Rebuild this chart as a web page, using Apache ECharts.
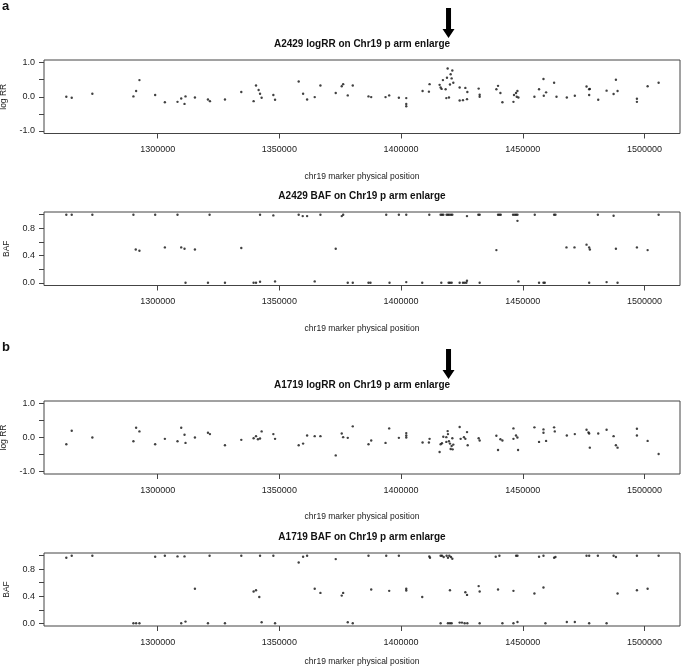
<!DOCTYPE html>
<html>
<head>
<meta charset="utf-8">
<script src="https://cdn.jsdelivr.net/npm/echarts@6/dist/echarts.min.js"></script>
<style>html,body{margin:0;padding:0;background:#fff;}#c{width:685px;height:668px;}</style>
</head>
<body>
<div id="c"></div>
<script>
// ---- data ----
const xTicks = [1300000, 1350000, 1400000, 1450000, 1500000];
const xRange = [1253300, 1514600];
const logTicks = [-1, -0.5, 0, 0.5, 1];
const logLabels = [-1, 0, 1];
const bafTicks = [0, 0.2, 0.4, 0.6, 0.8, 1];
const bafLabels = [0, 0.4, 0.8];
const arrowPos = [1419500];
const panelTitles = ['A2429 logRR on Chr19 p arm enlarge', 'A2429 BAF on Chr19 p arm enlarge',
  'A1719 logRR on Chr19 p arm enlarge', 'A1719 BAF on Chr19 p arm enlarge'];
const xTitle = 'chr19 marker physical position';

const a2429LogRR = [[1262470,0.0],[1264690,-0.03],[1273170,0.09],[1290040,0.01],[1291150,0.17],[1292510,0.49],[1298970,0.05],[1302960,-0.16],[1308150,-0.15],[1309670,-0.05],[1311030,-0.21],[1311440,0.01],[1315310,-0.02],[1320660,-0.08],[1321480,-0.13],[1327650,-0.08],[1334360,0.14],[1339420,-0.13],[1340410,0.33],[1341480,0.20],[1342060,0.09],[1342710,-0.03],[1347530,0.05],[1348230,-0.09],[1357940,0.45],[1359750,0.09],[1361400,-0.08],[1364520,-0.01],[1366870,0.33],[1373160,0.11],[1375630,0.31],[1376210,0.37],[1378100,0.04],[1380160,0.33],
[1386620,0.01],[1387730,-0.01],[1393620,-0.01],[1395120,0.04],[1399100,-0.03],[1402130,-0.04],[1402130,-0.21],[1402130,-0.28],[1408840,0.17],[1411440,0.15],[1411720,0.37],[1415840,0.35],[1416250,0.27],[1416660,0.23],[1417200,0.49],[1418310,0.22],[1419140,0.83],[1418860,0.56],[1418590,-0.04],[1419680,-0.02],[1420090,0.36],[1420370,0.66],[1420780,0.54],[1421060,0.77],[1421470,0.41],[1424070,0.27],[1424070,-0.11],[1425430,-0.10],[1426410,0.26],[1427100,-0.07],[1427230,0.14],[1431880,0.24],[1432290,0.06],[1432290,0.0],[1439160,0.22],[1439840,0.32],[1440810,0.11],[1441640,-0.16],[1446170,-0.15],[1446400,0.05],[1447230,0.11],[1447800,0.17],[1447520,0.0],[1448210,-0.02],[1454790,0.0],[1456690,0.22],[1458510,0.52],[1458640,0.03],[1459580,0.13],[1462880,0.41],[1463860,0.0],[1468100,-0.02],[1471390,0.03],[1476200,0.30],[1477280,0.22],[1477550,0.23],[1477280,0.05],[1481000,-0.09],[1484440,0.18],[1487320,0.08],[1488270,0.50],[1488950,0.17],[1496900,-0.06],[1496900,-0.15],[1501300,0.31],[1505820,0.41]];

const a2429BAF = [[1262470,1],[1264690,1],[1273170,1],[1290040,1],[1298970,1],[1308150,1],[1321330,1],[1342060,1],[1347530,0.99],[1357940,1],[1359590,0.98],[1361400,0.98],[1366870,1],[1375630,0.98],[1376210,1],
[1393900,1],[1399100,1],[1402130,1],[1411600,1],[1416250,1],[1416800,1],[1417360,1],[1418720,1],[1419270,1],[1419820,1],[1420500,1],[1421060,1],[1427080,0.98],[1431760,1],[1432290,1],[1439840,1],[1440400,1],[1440950,1],[1446010,1],[1446700,1],[1447260,1],[1447820,1],[1447820,0.91],[1454930,1],[1462880,1],[1463430,1],[1480860,1],[1487320,0.985],[1505820,1],
[1291000,0.49],[1292510,0.47],[1302960,0.52],[1309670,0.52],[1311030,0.50],[1315310,0.49],[1334360,0.51],[1373160,0.50],[1439160,0.48],[1467960,0.52],[1471250,0.52],[1476200,0.56],[1477280,0.52],[1477570,0.49],[1488270,0.50],[1496900,0.52],[1501300,0.48],
[1311440,0],[1320660,0],[1327650,0],[1339420,0],[1340410,0],[1342060,0.015],[1348230,0.02],[1364520,0.02],[1378100,0],[1380160,0],[1386620,0],[1387440,0],[1395260,0],[1402130,0.01],[1408700,0],[1416530,0],[1419540,0],[1420090,0],[1420780,0],[1424070,0],[1425430,0],[1426130,0],[1426820,0],[1427080,0.03],[1432290,0],[1448210,0.02],[1456690,0],[1458510,0],[1459040,0],[1477280,0],[1484440,0.01],[1488950,0]];

const a1719LogRR = [[1262470,-0.20],[1264690,0.20],[1273170,0.0],[1290040,-0.11],[1291150,0.29],[1292510,0.18],[1298970,-0.20],[1302960,-0.04],[1308150,-0.11],[1309670,0.29],[1311030,0.08],[1311440,-0.16],[1315310,0.0],[1320660,0.14],[1321480,0.10],[1327650,-0.23],[1334360,-0.07],[1339420,-0.02],[1340410,0.04],[1341200,-0.05],[1342060,-0.03],[1342710,0.18],[1347530,0.10],[1348230,-0.04],[1357940,-0.23],[1359750,-0.18],[1361400,0.06],[1364520,0.04],[1366870,0.04],[1373160,-0.53],[1375630,0.12],[1376210,0.01],[1378100,-0.01],[1380160,0.33],
[1386620,-0.20],[1387730,-0.09],[1393620,-0.16],[1395120,0.27],[1399100,-0.01],[1402130,0.13],[1402130,0.06],[1402130,0.0],[1408840,-0.15],[1411440,-0.15],[1411720,-0.04],[1415840,-0.43],[1416250,-0.20],[1416800,-0.17],[1417360,0.02],[1418590,-0.13],[1418590,0.01],[1419140,0.19],[1419270,0.10],[1419680,-0.11],[1420090,-0.18],[1420370,-0.34],[1420780,-0.25],[1421060,-0.02],[1421200,-0.35],[1421470,-0.21],[1424070,0.31],[1424480,-0.04],[1425840,0.01],[1426410,-0.04],[1427100,0.16],[1427370,-0.23],[1431880,-0.02],[1432290,-0.09],[1439160,0.05],[1439840,-0.37],[1440810,-0.05],[1441640,-0.09],[1446170,0.27],[1446170,-0.04],[1447230,0.06],[1447800,0.0],[1448070,-0.37],[1454790,0.30],[1456690,-0.13],[1458510,0.24],[1458510,0.14],[1459580,-0.10],[1462880,0.30],[1463160,0.18],[1468100,0.06],[1471390,0.10],[1476200,0.23],[1477000,0.15],[1477280,0.12],[1477550,-0.30],[1481000,0.12],[1484440,0.23],[1487320,0.04],[1488270,-0.23],[1488950,-0.30],[1496900,0.26],[1496900,0.06],[1501300,-0.10],[1505820,-0.49]];

const a1719BAF = [[1262470,0.97],[1264690,1],[1273170,1],[1290040,0],[1291150,0],[1292510,0],[1298970,0.985],[1302960,1],[1308150,0.99],[1311030,0.99],[1309670,0],[1311440,0.025],[1315310,0.51],[1321330,1],[1320660,0],[1327650,0],[1334360,1],[1339420,0.47],[1340410,0.49],[1341750,0.39],[1342060,1],[1342710,0.015],[1347530,1],[1348230,0],[1357940,0.90],[1359750,0.985],[1361400,1],[1364520,0.51],[1366870,0.45],[1373160,0.95],[1375630,0.41],[1376210,0.45],[1378100,0.015],[1380160,0],
[1386620,1],[1393900,1],[1399100,1],[1411600,0.99],[1411880,0.97],[1416250,1],[1416800,1],[1417500,0.98],[1418720,1],[1419270,0.97],[1419820,1],[1420500,0.98],[1421060,0.955],[1438890,0.985],[1440400,1],[1447260,1],[1447820,1],[1456690,0.985],[1458510,1],[1462880,0.97],[1463430,0.98],[1476200,1],[1477280,1],[1480860,1],[1487320,1],[1488270,0.98],[1496900,1],[1505820,1],
[1387730,0.50],[1395120,0.48],[1402130,0.51],[1402130,0.485],[1408700,0.39],[1420090,0.49],[1426410,0.46],[1427100,0.42],[1431880,0.55],[1432290,0.47],[1439840,0.50],[1446170,0.48],[1454790,0.44],[1458510,0.53],[1488950,0.44],[1496900,0.49],[1501300,0.51],
[1416250,0],[1419270,0],[1420090,0],[1420780,0],[1424070,0.01],[1425020,0.01],[1426130,0],[1427230,0],[1432290,0],[1441640,0],[1446170,0],[1447820,0.02],[1459310,0],[1468100,0.02],[1471390,0.02],[1477280,0],[1484440,0]];

// ---- layout ----
const FONT = '"Liberation Sans", Arial, sans-serif';
const TXT = '#222';
const grids = [
  {top: 60, height: 73.5, xNameGap: 39},
  {top: 212, height: 73.5, xNameGap: 39},
  {top: 401, height: 73, xNameGap: 38},
  {top: 553, height: 73, xNameGap: 31}
];
const seriesData = [a2429LogRR, a2429BAF, a1719LogRR, a1719BAF];
const isLog = [true, false, true, false];
const plotLeft = 44, plotRight = 5;
const plotCenter = plotLeft + (685 - plotLeft - plotRight) / 2;

const option = {
  animation: false,
  backgroundColor: '#fff',
  title: [],
  grid: grids.map(g => ({left: plotLeft, right: plotRight, top: g.top, height: g.height,
    containLabel: false, outerBoundsMode: 'none',
    show: true, borderColor: '#444', borderWidth: 1, backgroundColor: 'transparent'})),
  xAxis: grids.map((g, i) => ({
    type: 'value', gridIndex: i, min: xRange[0], max: xRange[1],
    axisLine: {show: false, onZero: false},
    axisTick: {show: true, length: 5, customValues: xTicks, lineStyle: {color: '#444'}},
    axisLabel: {customValues: xTicks, fontSize: 9, color: TXT, fontFamily: FONT, margin: 12,
      formatter: v => String(v)},
    splitLine: {show: false},
    name: xTitle, nameLocation: 'middle', nameGap: g.xNameGap,
    nameTextStyle: {fontSize: 8.5, color: TXT, fontFamily: FONT}
  })),
  yAxis: grids.map((g, i) => ({
    type: 'value', gridIndex: i,
    min: isLog[i] ? -1.08 : -0.04, max: isLog[i] ? 1.08 : 1.04,
    axisLine: {show: false, onZero: false},
    axisTick: {show: true, length: 5, customValues: isLog[i] ? logTicks : bafTicks, lineStyle: {color: '#444'}},
    axisLabel: {customValues: isLog[i] ? logLabels : bafLabels, fontSize: 9, color: TXT, fontFamily: FONT,
      margin: 9, formatter: v => v.toFixed(1)},
    splitLine: {show: false},
    name: isLog[i] ? 'log RR' : 'BAF', nameLocation: 'middle', nameGap: 27, nameRotate: 90,
    nameTextStyle: {fontSize: 8.5, color: TXT, fontFamily: FONT}
  })),
  series: seriesData.map((d, i) => ({
    type: 'scatter', xAxisIndex: i, yAxisIndex: i, data: d,
    symbol: 'circle', symbolSize: 2.4, itemStyle: {color: '#111'}, silent: true
  }))
};

grids.forEach((g, i) => {
  option.title.push({
    text: panelTitles[i], left: plotCenter, top: g.top - 21, textAlign: 'center', padding: 0,
    textStyle: {fontSize: 10, fontWeight: 'bold', color: '#111', fontFamily: FONT}
  });
});
option.title.push({text: 'a', left: 2, top: 0, padding: 0, textStyle: {fontSize: 13, fontWeight: 'bold', color: '#111', fontFamily: FONT}});
option.title.push({text: 'b', left: 2, top: 341, padding: 0, textStyle: {fontSize: 13, fontWeight: 'bold', color: '#111', fontFamily: FONT}});

const chart = echarts.init(document.getElementById('c'), null, {renderer: 'canvas'});
chart.setOption(option);

// arrows above the logRR panels, positioned via the x scale
const arrowGraphics = [];
[0, 2].forEach(gi => {
  const px = chart.convertToPixel({xAxisIndex: gi, yAxisIndex: gi}, [arrowPos[0], 0])[0];
  const tipY = grids[gi].top - 22;
  const topY = tipY - 30;
  const sw = 2.5, hw = 6, hh = 9;
  arrowGraphics.push({
    type: 'polygon',
    shape: {points: [[px - sw, topY], [px + sw, topY], [px + sw, tipY - hh], [px + hw, tipY - hh],
      [px, tipY], [px - hw, tipY - hh], [px - sw, tipY - hh]]},
    style: {fill: '#000'}
  });
});
chart.setOption({graphic: arrowGraphics});
</script>
</body>
</html>
